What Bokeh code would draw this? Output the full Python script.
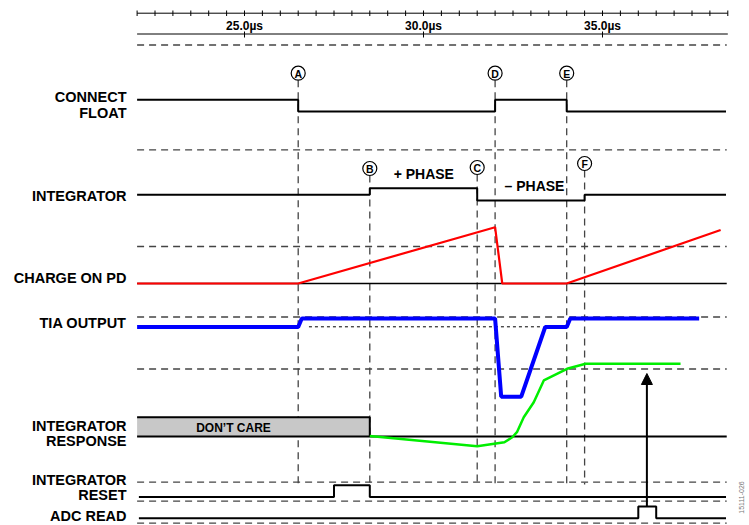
import numpy as np
from bokeh.plotting import figure
from bokeh.models import Range1d, Arrow, NormalHead
from bokeh.core.properties import value
from bokeh.embed import file_html
from bokeh.resources import INLINE

# ---------------- data (time in microseconds) ----------------
t_start, t_end = 22.0, 38.45
axis_major = [25.0, 30.0, 35.0]
axis_labels = ["25.0µs", "30.0µs", "35.0µs"]
axis_minor = list(np.arange(22.0, 38.51, 0.5))

event_names = ["A", "B", "C", "D", "E", "F"]
event_t = [26.5, 28.5, 31.5, 32.0, 34.0, 34.5]

connect_t = [22.0, 26.5, 26.5, 32.0, 32.0, 34.0, 34.0, 38.45]
connect_s = [1, 1, 0, 0, 1, 1, 0, 0]

integ_t = [22.0, 28.5, 28.5, 31.5, 31.5, 34.5, 34.5, 38.45]
integ_s = [0, 0, 1, 1, -1, -1, 0, 0]

charge_t = [22.0, 26.5, 32.0, 32.2, 34.0, 38.3]
charge_v = [0.0, 0.0, 1.0, 0.0, 0.0, 0.95]

tia_t = [22.0, 26.5, 26.6, 32.0, 32.17, 32.73, 33.4, 34.0, 34.1, 37.7]
tia_v = [0.0, 0.0, 1.0, 1.0, -8.2, -8.2, 0.0, 0.0, 1.0, 1.0]
tia_ref_t = [26.8, 33.27]

resp_t = [28.5, 31.5, 32.26, 32.48, 32.61, 32.80, 33.08, 33.36, 34.01, 34.53, 35.22, 37.18]
resp_v = [0.0, -0.141, -0.086, -0.017, 0.053, 0.26, 0.468, 0.769, 0.931, 1.0, 1.0, 1.0]
dont_care_t = [22.0, 28.5]

reset_t = [22.05, 27.5, 27.5, 28.5, 28.5, 38.45]
reset_s = [0, 0, 1, 1, 0, 0]

adc_t = [22.05, 36.0, 36.0, 36.5, 36.5, 38.45]
adc_s = [0, 0, 1, 1, 0, 0]
adc_read_t = 36.24

row_labels = [["CONNECT", "FLOAT"], ["INTEGRATOR"], ["CHARGE ON PD"], ["TIA OUTPUT"],
              ["INTEGRATOR", "RESPONSE"], ["INTEGRATOR", "RESET"], ["ADC READ"]]

# ---------------- layout (vertical positions in page pixels) ----------------
PX_PER_US = 35.8
def px2t(X):
    return 25.0 + (X - 244.0) / PX_PER_US

W, H = 749, 525
FONT = value("Liberation Sans")
GRAY_DASH = "#444444"

p = figure(width=W, height=H, x_range=Range1d(px2t(0), px2t(W)),
           y_range=Range1d(525, 0), output_backend="svg",
           toolbar_location=None, min_border=0, x_axis_type=None, y_axis_type=None)
p.grid.visible = False
p.outline_line_color = None
p.background_fill_color = "white"

def levels(states, lo, hi):
    return [lo - s * (lo - hi) for s in states]

# ---- top time axis ----
p.segment(x0=[t_start], y0=[12.7], x1=[38.5], y1=[12.7], line_color="black", line_width=1)
p.segment(x0=axis_minor, y0=[10] * len(axis_minor), x1=axis_minor, y1=[15.5] * len(axis_minor),
          line_color="black", line_width=1)
p.segment(x0=[t_start], y0=[33.5], x1=[38.5], y1=[33.5], line_color="black", line_width=1)
p.segment(x0=axis_major, y0=[31] * 3, x1=axis_major, y1=[37] * 3, line_color="black", line_width=1)
p.text(x=axis_major, y=[25] * 3, text=axis_labels, text_font=FONT, text_font_style="bold",
       text_font_size="12px", text_align="center", text_baseline="middle")

# ---- horizontal dashed guides ----
dash_y = [44.5, 149.3, 246, 316.5, 368.5, 481.7, 500.7, 522.7]
p.segment(x0=[t_start] * len(dash_y), y0=dash_y, x1=[38.47] * len(dash_y), y1=dash_y,
          line_color=GRAY_DASH, line_width=1.3, line_dash="7 5")

# ---- event markers ----
event_y = [72.7, 168, 167, 72.7, 72.7, 163]
p.segment(x0=event_t, y0=[y + 7 for y in event_y], x1=event_t, y1=[484] * 6,
          line_color=GRAY_DASH, line_width=1.3, line_dash="7 5")
p.scatter(x=event_t, y=event_y, marker="circle", size=14, fill_color="white",
          line_color="black", line_width=1.2)
p.text(x=event_t, y=[y + 0.5 for y in event_y], text=event_names, text_font=FONT,
       text_font_style="bold", text_font_size="10.5px", text_align="center", text_baseline="middle")

# ---- CONNECT / FLOAT ----
p.line(connect_t, levels(connect_s, 111, 99.3), line_color="black", line_width=2)

# ---- INTEGRATOR ----
p.line(integ_t, [194.3 - s * 6.5 if s > 0 else 194.3 - s * 5.8 for s in integ_s],
       line_color="black", line_width=2)
p.text(x=[px2t(423.3), px2t(534)], y=[173.3, 185], text=["+ PHASE", "– PHASE"], text_font=FONT,
       text_font_style="bold", text_font_size="14px", text_align="center", text_baseline="middle")

# ---- CHARGE ON PD ----
p.segment(x0=[t_start], y0=[283], x1=[38.47], y1=[283], line_color="black", line_width=1.3)
p.line(charge_t, [283 - v * 56.3 for v in charge_v], line_color="#ff0000", line_width=2.2)

# ---- TIA OUTPUT ----
p.line(tia_ref_t, [326.3, 326.3], line_color="black", line_width=1, line_dash="3 3")
p.line(tia_t, [326.5 - v * 8.5 for v in tia_v], line_color="#0000ff", line_width=4)

# ---- INTEGRATOR RESPONSE ----
p.quad(left=[dont_care_t[0]], right=[dont_care_t[1]], top=[416.7], bottom=[436],
       fill_color="#c8c8c8", line_color=None)
p.line([dont_care_t[0], dont_care_t[1], dont_care_t[1]], [416.7, 416.7, 436],
       line_color="black", line_width=2)
p.line([dont_care_t[0], 38.47], [436, 436], line_color="black", line_width=2)
p.text(x=[px2t(233)], y=[427.7], text=["DON’T CARE"], text_font=FONT, text_font_style="bold",
       text_font_size="12px", text_align="center", text_baseline="middle")
p.line(resp_t, [435.5 - v * 72.2 for v in resp_v], line_color="#00ee00", line_width=2.5)

# ---- INTEGRATOR RESET ----
p.line(reset_t, levels(reset_s, 496.5, 484.7), line_color="black", line_width=2)

# ---- ADC READ ----
p.line(adc_t, levels(adc_s, 517.7, 506), line_color="black", line_width=2)
p.add_layout(Arrow(end=NormalHead(size=11, fill_color="black", line_color="black"),
                   x_start=adc_read_t, y_start=506, x_end=adc_read_t, y_end=373,
                   line_color="black", line_width=2))

# ---- row labels ----
label_y = [[96.7, 112.3], [195], [277.3], [322], [425, 440], [479, 494], [515]]
lx, ly, lt = [], [], []
for names, ys in zip(row_labels, label_y):
    for n, y in zip(names, ys):
        lx.append(px2t(126)); ly.append(y); lt.append(n)
p.text(x=lx, y=ly, text=lt, text_font=FONT, text_font_style="bold", text_font_size="14.5px",
       text_align="right", text_baseline="middle")

# ---- figure id ----
p.text(x=[px2t(741)], y=[497], text=["15111-026"], angle=np.pi / 2, text_font=FONT,
       text_font_size="7px", text_color="#777777", text_align="center", text_baseline="middle")

open("out.html", "w").write(file_html(p, INLINE))
